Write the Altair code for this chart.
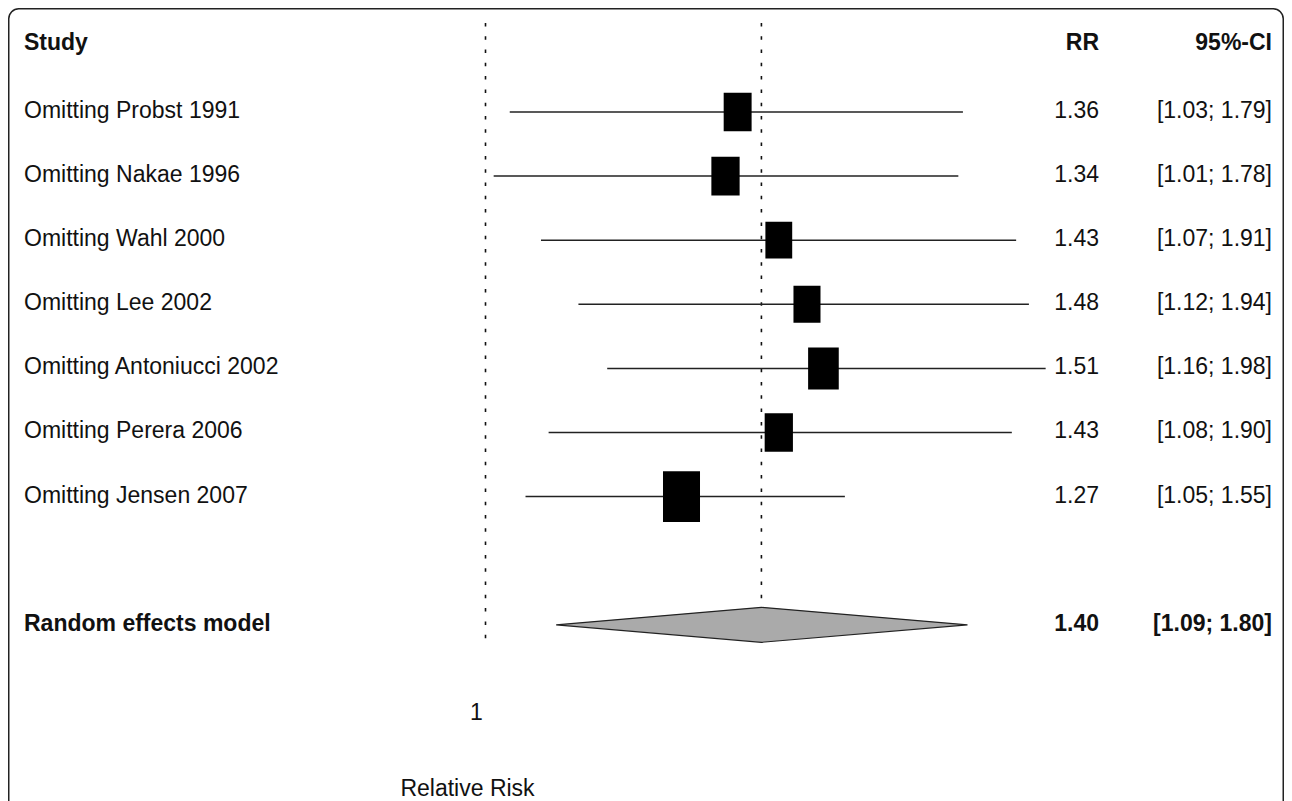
import altair as alt
import pandas as pd

# ---------------- data ----------------
studies = ["Omitting Probst 1991", "Omitting Nakae 1996", "Omitting Wahl 2000",
           "Omitting Lee 2002", "Omitting Antoniucci 2002", "Omitting Perera 2006",
           "Omitting Jensen 2007"]
rr = [1.36, 1.34, 1.43, 1.48, 1.51, 1.43, 1.27]
ci_low = [1.03, 1.01, 1.07, 1.12, 1.16, 1.08, 1.05]
ci_high = [1.79, 1.78, 1.91, 1.94, 1.98, 1.90, 1.55]
weights = [12.7, 13.0, 11.7, 11.9, 15.3, 13.0, 22.3]   # relative weights (box area)

pooled_label = "Random effects model"
pooled_rr = 1.40
pooled_low = 1.09
pooled_high = 1.80

header_study = "Study"
header_rr = "RR"
header_ci = "95%-CI"
x_ticks = [1]
x_title = "Relative Risk"

# ---------------- layout ----------------
W, H = 1276, 793
FONT = "Liberation Sans"
FS = 23
X_LABEL, X_RR, X_CI = 16, 1091, 1264

xs = alt.Scale(type="log", domain=[0.5586, 2.6479], nice=False)
ys = alt.Scale(domain=[-0.6225, 11.749], reverse=True, nice=False, zero=False)

df = pd.DataFrame({"study": studies, "rr": rr, "lo": ci_low, "hi": ci_high, "w": weights})
df["row"] = range(1, len(df) + 1)
df["rr_txt"] = df["rr"].map("{:.2f}".format)
df["ci_txt"] = [f"[{l:.2f}; {h:.2f}]" for l, h in zip(df["lo"], df["hi"])]

pooled_row = len(df) + 2
pdf = pd.DataFrame({"study": [pooled_label], "rr": [pooled_rr], "lo": [pooled_low],
                    "hi": [pooled_high], "row": [pooled_row]})
pdf["rr_txt"] = pdf["rr"].map("{:.2f}".format)
pdf["ci_txt"] = [f"[{l:.2f}; {h:.2f}]" for l, h in zip(pdf["lo"], pdf["hi"])]

half = 0.273
diamond = pd.DataFrame({"x": [pooled_low, pooled_rr, pooled_high],
                        "y": [pooled_row, pooled_row - half, pooled_row],
                        "y2": [pooled_row, pooled_row + half, pooled_row]})

refs = pd.DataFrame({"x": [1.0, pooled_rr], "y": [-0.39, -0.39], "y2": [9.30, 8.64]})

base = alt.Chart(df)

ref_lines = alt.Chart(refs).mark_rule(strokeDash=[3.5, 9.8], strokeWidth=1.6, color="#111").encode(
    x=alt.X("x:Q", scale=xs, axis=None),
    y=alt.Y("y:Q", scale=ys, axis=None),
    y2="y2:Q",
)

ci_rules = base.mark_rule(color="#222", strokeWidth=1.5).encode(
    x=alt.X("lo:Q", scale=xs, axis=None),
    x2="hi:Q",
    y=alt.Y("row:Q", scale=ys, axis=None),
)

boxes = base.mark_point(shape="M-0.73,-1L0.73,-1L0.73,1L-0.73,1Z", filled=True,
                        color="black", opacity=1, strokeWidth=0).encode(
    x=alt.X("rr:Q", scale=xs, axis=None),
    y=alt.Y("row:Q", scale=ys, axis=None),
    size=alt.Size("w:Q", scale=alt.Scale(domain=[0, 22.3], range=[0, 2570], zero=True), legend=None),
)

dia = alt.Chart(diamond).mark_area(color="#aaaaaa", stroke="#222", strokeWidth=1.2, opacity=1).encode(
    x=alt.X("x:Q", scale=xs, axis=None),
    y=alt.Y("y:Q", scale=ys, axis=None),
    y2="y2:Q",
)


def col_text(data, field, xpix, align, bold=False):
    return alt.Chart(data).mark_text(
        align=align, baseline="alphabetic", dy=6, font=FONT, fontSize=FS,
        fontWeight="bold" if bold else "normal", color="#111",
    ).encode(
        x=alt.value(xpix),
        y=alt.Y("row:Q", scale=ys, axis=None),
        text=f"{field}:N",
    )


hdr = pd.DataFrame({"a": [header_study], "b": [header_rr], "c": [header_ci], "row": [0]})
header_layers = [
    alt.Chart(hdr).mark_text(align=al, baseline="alphabetic", dy=2, font=FONT, fontSize=FS,
                             fontWeight="bold", color="#111").encode(
        x=alt.value(xp), y=alt.Y("row:Q", scale=ys, axis=None), text=f"{f}:N")
    for f, xp, al in [("a", X_LABEL, "left"), ("b", X_RR, "right"), ("c", X_CI, "right")]
]

tick_df = pd.DataFrame({"v": x_ticks, "row": [10.49] * len(x_ticks),
                        "t": [str(v) for v in x_ticks]})
tick_text = alt.Chart(tick_df).mark_text(align="center", baseline="alphabetic", dx=-9,
                                         font=FONT, fontSize=FS, color="#111").encode(
    x=alt.X("v:Q", scale=xs, axis=None), y=alt.Y("row:Q", scale=ys, axis=None), text="t:N")

title_df = pd.DataFrame({"v": [1.0], "row": [11.67], "t": [x_title]})
title_text = alt.Chart(title_df).mark_text(align="center", baseline="alphabetic", dx=-18,
                                           font=FONT, fontSize=FS, color="#111").encode(
    x=alt.X("v:Q", scale=xs, axis=None), y=alt.Y("row:Q", scale=ys, axis=None), text="t:N")

frame = alt.Chart(pd.DataFrame({"k": [0]})).mark_rect(
    fill="white", fillOpacity=0, stroke="#222", strokeWidth=1.5, cornerRadius=10).encode(
    x=alt.value(0.75), x2=alt.value(W - 0.75), y=alt.value(0.75), y2=alt.value(H + 40))

chart = alt.layer(
    ref_lines, ci_rules, boxes, dia,
    col_text(df, "study", X_LABEL, "left"),
    col_text(df, "rr_txt", X_RR, "right"),
    col_text(df, "ci_txt", X_CI, "right"),
    col_text(pdf, "study", X_LABEL, "left", bold=True),
    col_text(pdf, "rr_txt", X_RR, "right", bold=True),
    col_text(pdf, "ci_txt", X_CI, "right", bold=True),
    *header_layers, tick_text, title_text, frame,
).properties(
    width=W, height=H, padding=0,
    autosize=alt.AutoSizeParams(type="none"),
    background="white",
).configure_view(strokeWidth=0)

chart.save("out.html", embed_options={"renderer": "svg", "actions": False})
